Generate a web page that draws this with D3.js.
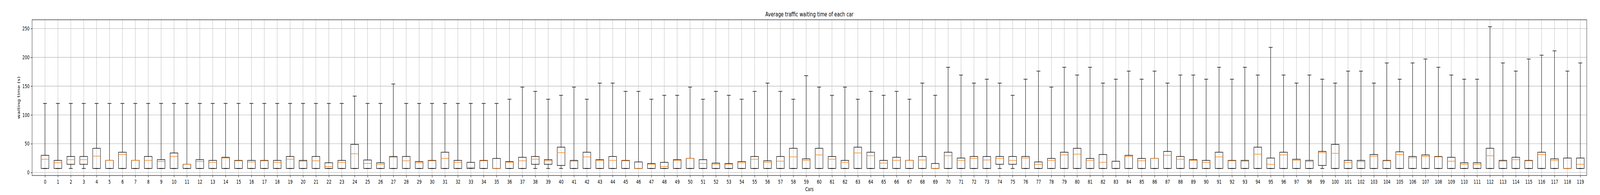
<!DOCTYPE html>
<html>
<head>
<meta charset="utf-8">
<script src="https://cdn.jsdelivr.net/npm/d3@7"></script>
<style>
  html, body { margin: 0; padding: 0; background: #fff; overflow: hidden; }
  svg { font-family: "DejaVu Sans", sans-serif; display: block; }
</style>
</head>
<body>
<svg id="chart"></svg>
<script>
// car ids shown on the x axis
var cars = d3.range(120);

// box stats (seconds)
var whiskerLow = [7,7,7,7,7,7,7,7,7,7, 7,7,7,7,7,7,7,7,7,7,
  7,7,7,7,7,7,7,7,7,7, 7,7,7,7,7,7,7,7,7,7,
  7,7,7,7,7,7,7,7,7,7, 7,7,7,7,7,7,7,7,7,7,
  7,7,7,7,7,7,7,7,7,7, 7,7,7,7,7,7,7,7,7,7,
  7,7,7,7,7,7,7,7,7,7, 7,7,7,7,7,7,7,7,7,7,
  7,7,7,7,7,7,7,7,7,7, 7,7,7,7,7,7,7,7,7,7];

var q1 = [7,7,14.2,14.2,7,7,7,7,7,7, 7,7,7,7,7,7,7,7,7,7,
  7,7,7,7,7,7,7,7,7,7, 7,7,7,7,7,7,7,7,14.2,14.2,
  12.2,7,7,7,7,7,7,7,7,7, 7,7,7,7,7,7,7,7,7,7,
  7,7,7,7,7,7,7,7,7,7, 7,7,7,7,14.2,14.2,7,7,7,7,
  7,7,7,7,7,7,7,7,7,7, 7,7,7,7,7,7,7,7,7,12.2,
  7,7,7,7,7,7,7,7,7,7, 7,7,7,7,7,7,7,7,7,7];

var medians = [23.0,16.9,22.3,22.3,28.4,21.0,31.2,21.0,21.0,19.0,
  27.8,14.2,19.0,17.6,25.1,20.3,18.3,20.3,17.6,23.0,
  19.6,20.3,10.2,17.6,32.5,15.6,14.2,26.4,20.3,16.9,
  20.3,24.4,17.6,8.8,20.3,7.0,17.6,20.3,23.0,20.3,
  34.5,19.6,27.1,21.0,21.0,20.3,7.0,14.2,10.2,21.0,
  24.4,15.6,14.2,14.2,16.9,23.0,17.6,19.6,27.1,21.0,
  30.5,23.0,17.6,33.9,29.1,16.3,21.0,21.0,21.7,7.0,
  29.1,21.0,24.4,21.7,24.4,21.0,25.1,14.2,21.0,30.5,
  31.8,21.0,17.6,19.0,27.8,20.3,24.4,29.8,23.0,21.0,
  17.6,27.1,20.3,19.6,31.8,14.2,30.5,21.0,19.0,34.5,
  33.2,17.6,19.0,28.4,20.3,31.2,25.7,27.8,27.1,19.6,
  14.2,14.2,29.1,19.6,22.3,20.3,31.2,21.0,7.0,14.2];

var q3 = [29.8,21.0,27.8,27.8,42.0,21.0,35.2,21.0,27.8,22.3,
  33.9,14.2,22.3,21.0,26.4,21.0,21.0,21.0,21.0,27.8,
  21.0,27.8,16.9,21.0,48.8,21.7,16.9,27.8,27.8,19.0,
  21.0,35.2,21.0,17.6,21.0,24.4,19.0,26.4,27.8,22.3,
  44.0,21.0,35.2,22.3,27.8,21.0,18.3,15.6,17.6,22.3,
  24.4,22.3,16.3,15.6,19.0,27.8,20.3,27.8,42.0,23.7,
  42.0,27.8,21.0,44.0,35.2,21.0,26.4,21.0,27.8,15.6,
  35.2,25.1,27.8,27.8,27.8,27.8,27.8,18.3,24.4,35.2,
  42.0,24.4,31.2,19.6,29.8,24.4,24.4,36.6,27.8,22.3,
  21.0,35.2,21.0,21.0,44.0,25.1,35.2,23.0,21.0,36.6,
  48.8,21.0,21.0,31.2,21.0,35.9,27.8,30.5,27.8,26.4,
  16.9,16.9,42.0,21.0,26.4,21.0,35.2,23.7,25.1,25.1];

var whiskerHigh = [120,120,120,120,120,120,120,120,120,120,
  120,120,120,120,120,120,120,120,120,120,
  120,120,120,120,132.7,120,120,153.7,120,120,
  120,120,120,120,120,120,127.3,148.3,140.9,127.3,
  134.1,148.3,127.3,155.3,155.3,140.9,140.9,127.3,134.1,134.1,
  148.3,127.3,140.9,134.1,127.3,140.9,155.3,140.9,127.3,168.2,
  148.3,134.1,148.3,127.3,140.9,134.1,140.9,127.3,155.3,134.1,
  182.8,169.3,155.3,162.1,155.3,134.1,162.1,176.1,148.3,182.8,
  169.3,182.8,155.3,162.1,176.1,162.1,176.1,155.3,169.3,169.3,
  162.1,182.8,162.1,182.8,169.3,217.4,169.3,155.3,169.3,162.1,
  155.3,176.1,176.1,155.3,190.3,162.1,190.3,197.1,182.8,169.3,
  162.1,162.1,253.3,190.3,176.1,197.1,203.8,211.3,176.1,190.3];

var yTicks = [0, 50, 100, 150, 200, 250];

var rows = cars.map(function(c, i) {
  return { car: c, lo: whiskerLow[i], q1: q1[i], med: medians[i], q3: q3[i], hi: whiskerHigh[i] };
});

// the browser caps the window at 4096 wide, so lay out in 6000x500
// and stretch the drawing onto whatever window we get
var W = 6000, H = 500;
var plot = { left: 120.3, right: 5950.3, top: 50.7, bottom: 450 };
var svg = d3.select("#chart")
  .attr("viewBox", "0 0 " + W + " " + H)
  .attr("preserveAspectRatio", "none")
  .attr("width", window.innerWidth || W)
  .attr("height", window.innerHeight || H);

var x = d3.scaleLinear().domain([-1, 119.5]).range([plot.left, plot.right]);
var y = d3.scaleLinear().domain([-5.2, 265.3]).range([plot.bottom, plot.top]);

var boxW = x(0.3) - x(0);
var capW = x(0.15) - x(0);

// grid
svg.append("g").selectAll("line").data(cars).enter().append("line")
  .attr("x1", function(d) { return x(d); }).attr("x2", function(d) { return x(d); })
  .attr("y1", plot.top).attr("y2", plot.bottom)
  .attr("stroke", "#b0b0b0").attr("stroke-width", 1.1);
svg.append("g").selectAll("line").data(yTicks).enter().append("line")
  .attr("x1", plot.left).attr("x2", plot.right)
  .attr("y1", function(d) { return y(d); }).attr("y2", function(d) { return y(d); })
  .attr("stroke", "#b0b0b0").attr("stroke-width", 1.1);

// boxes
var g = svg.append("g").selectAll("g").data(rows).enter().append("g");

g.append("line")
  .attr("x1", function(d) { return x(d.car); }).attr("x2", function(d) { return x(d.car); })
  .attr("y1", function(d) { return y(d.q3); }).attr("y2", function(d) { return y(d.hi); })
  .attr("stroke", "#000").attr("stroke-width", 1.4);
g.append("line")
  .attr("x1", function(d) { return x(d.car); }).attr("x2", function(d) { return x(d.car); })
  .attr("y1", function(d) { return y(d.q1); }).attr("y2", function(d) { return y(d.lo); })
  .attr("stroke", "#000").attr("stroke-width", 1.4);

g.append("line")
  .attr("x1", function(d) { return x(d.car) - capW; }).attr("x2", function(d) { return x(d.car) + capW; })
  .attr("y1", function(d) { return y(d.hi); }).attr("y2", function(d) { return y(d.hi); })
  .attr("stroke", "#000").attr("stroke-width", 1.4);
g.append("line")
  .attr("x1", function(d) { return x(d.car) - capW; }).attr("x2", function(d) { return x(d.car) + capW; })
  .attr("y1", function(d) { return y(d.lo); }).attr("y2", function(d) { return y(d.lo); })
  .attr("stroke", "#000").attr("stroke-width", 1.4);

g.append("rect")
  .attr("x", function(d) { return x(d.car) - boxW; })
  .attr("width", boxW * 2)
  .attr("y", function(d) { return y(d.q3); })
  .attr("height", function(d) { return y(d.q1) - y(d.q3); })
  .attr("fill", "none").attr("stroke", "#000").attr("stroke-width", 1.4);

g.append("line")
  .attr("x1", function(d) { return x(d.car) - boxW; }).attr("x2", function(d) { return x(d.car) + boxW; })
  .attr("y1", function(d) { return y(d.med); }).attr("y2", function(d) { return y(d.med); })
  .attr("stroke", "#ff7f0e").attr("stroke-width", 1.4);

// axes
var xAxis = d3.axisBottom(x).tickValues(cars).tickSize(4.9).tickPadding(6);
var yAxis = d3.axisLeft(y).tickValues(yTicks).tickSize(4.9).tickPadding(4.9);

var gx = svg.append("g").attr("transform", "translate(0," + plot.bottom + ")").call(xAxis);
var gy = svg.append("g").attr("transform", "translate(" + plot.left + ",0)").call(yAxis);
[gx, gy].forEach(function(a) {
  a.select(".domain").remove();
  a.selectAll(".tick line").attr("stroke", "#000").attr("stroke-width", 1.1);
  a.selectAll(".tick text").attr("fill", "#000").style("font-size", "13.9px")
    .style("font-family", "DejaVu Sans");
});

// frame
svg.append("rect").attr("x", plot.left).attr("y", plot.top)
  .attr("width", plot.right - plot.left).attr("height", plot.bottom - plot.top)
  .attr("fill", "none").attr("stroke", "#000").attr("stroke-width", 1.1);

// labels
svg.append("text").attr("x", (plot.left + plot.right) / 2).attr("y", 42)
  .attr("text-anchor", "middle").style("font-size", "16.7px")
  .text("Average traffic waiting time of each car");
svg.append("text").attr("x", (plot.left + plot.right) / 2).attr("y", 490)
  .attr("text-anchor", "middle").style("font-size", "13.9px")
  .text("Cars");
svg.append("text")
  .attr("transform", "translate(75," + (plot.top + plot.bottom) / 2 + ") rotate(-90)")
  .attr("text-anchor", "middle").style("font-size", "13.9px")
  .text("waiting time (s)");
</script>
</body>
</html>
